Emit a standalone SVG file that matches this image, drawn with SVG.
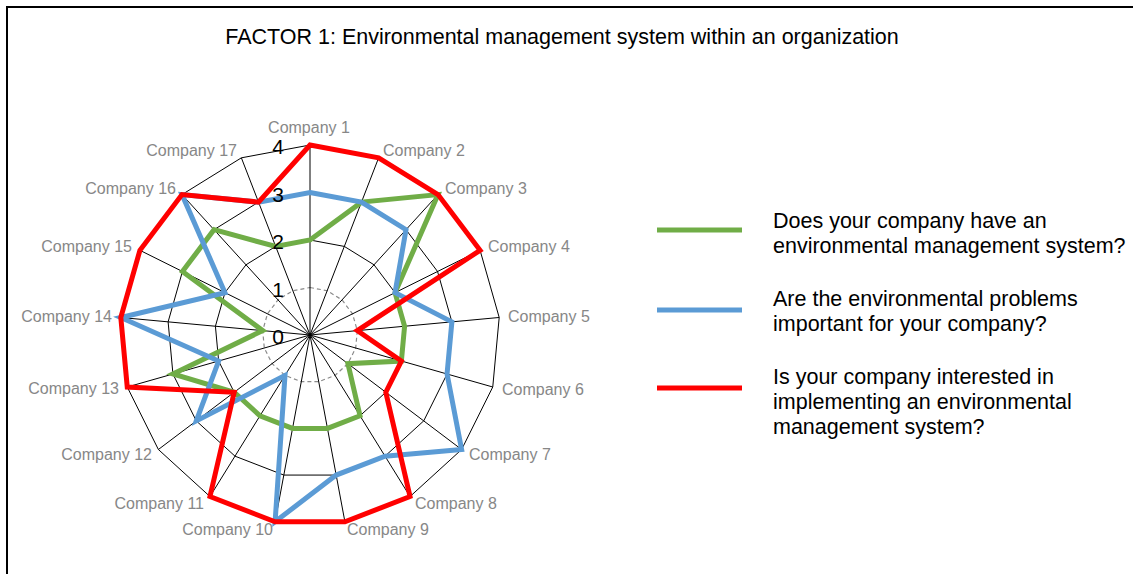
<svg xmlns="http://www.w3.org/2000/svg" width="1133" height="574" viewBox="0 0 1133 574">
<style>
  text { font-family: "Liberation Sans", Arial, sans-serif; }
  .title { font-size: 21.5px; fill: #000; }
  .cat { font-size: 16px; fill: #878787; }
  .val { font-size: 21px; fill: #000; text-anchor: middle; }
  .leg { font-size: 21.5px; fill: #000; }
  .grid { fill: none; stroke: #000; stroke-width: 1; }
  .grid1 { fill: none; stroke: #8a8a8a; stroke-width: 1.2; stroke-dasharray: 4 3; }
  .spoke { stroke: #000; stroke-width: 1; }
  .series { fill: none; stroke-width: 5; stroke-linejoin: miter; }
  .g { stroke: #70AD47; }
  .b { stroke: #5B9BD5; }
  .r { stroke: #FF0000; }
</style>
<rect x="0" y="0" width="1133" height="574" fill="#fff"/>
<rect id="frame" x="7" y="7" width="1140" height="600" fill="none" stroke="#000" stroke-width="2"/>
<text id="title" class="title" x="562" y="44" text-anchor="middle">FACTOR 1: Environmental management system within an organization</text>

<g id="grid">
  <polygon class="grid1" points="310,287.5 327.16,290.71 342,299.9 352.52,313.83 357.3,330.62 355.69,348 347.91,363.63 335.01,375.39 318.73,381.69 301.27,381.69 285,375.39 272.09,363.63 264.31,348 262.7,330.62 267.48,313.83 278,299.9 292.84,290.71"/>
  <polygon class="grid" points="310,240 344.32,246.42 374,264.79 395.04,292.66 404.59,326.23 401.37,361 385.81,392.25 360.01,415.77 327.46,428.38 292.54,428.38 259.99,415.77 234.19,392.25 218.63,361 215.41,326.23 224.96,292.66 246,264.79 275.68,246.42"/>
  <polygon class="grid" points="310,192.5 361.48,202.12 406,229.69 437.56,271.48 451.89,321.85 447.06,374 423.72,420.88 385.02,456.16 336.18,475.07 283.82,475.07 234.99,456.16 196.28,420.88 172.94,374 168.11,321.85 182.44,271.48 214,229.69 258.52,202.12"/>
  <polygon class="grid" points="310,145 378.64,157.83 438,194.59 480.08,250.31 499.19,317.47 492.75,387 461.62,449.5 410.02,496.54 344.91,521.76 275.09,521.76 209.98,496.54 158.38,449.5 127.25,387 120.81,317.47 139.92,250.31 182,194.59 241.36,157.83"/>
  <g class="spoke">
    <line x1="310" y1="335" x2="310" y2="145"/>
    <line x1="310" y1="335" x2="378.64" y2="157.83"/>
    <line x1="310" y1="335" x2="438" y2="194.59"/>
    <line x1="310" y1="335" x2="480.08" y2="250.31"/>
    <line x1="310" y1="335" x2="499.19" y2="317.47"/>
    <line x1="310" y1="335" x2="492.75" y2="387"/>
    <line x1="310" y1="335" x2="461.62" y2="449.5"/>
    <line x1="310" y1="335" x2="410.02" y2="496.54"/>
    <line x1="310" y1="335" x2="344.91" y2="521.76"/>
    <line x1="310" y1="335" x2="275.09" y2="521.76"/>
    <line x1="310" y1="335" x2="209.98" y2="496.54"/>
    <line x1="310" y1="335" x2="158.38" y2="449.5"/>
    <line x1="310" y1="335" x2="127.25" y2="387"/>
    <line x1="310" y1="335" x2="120.81" y2="317.47"/>
    <line x1="310" y1="335" x2="139.92" y2="250.31"/>
    <line x1="310" y1="335" x2="182" y2="194.59"/>
    <line x1="310" y1="335" x2="241.36" y2="157.83"/>
  </g>
</g>

<g id="series-lines">
  <polygon id="series-have-ems" class="series g" points="310,240 361.48,202.12 438,194.59 395.04,292.66 404.59,326.23 401.37,361 347.91,363.63 360.01,415.77 327.46,428.38 292.54,428.38 259.99,415.77 234.19,392.25 172.94,374 262.7,330.62 182.44,271.48 214,229.69 275.68,246.42"/>
  <polygon id="series-problems-important" class="series b" points="310,192.5 361.48,202.12 406,229.69 395.04,292.66 451.89,321.85 447.06,374 461.62,449.5 385.02,456.16 336.18,475.07 275.09,521.76 285,375.39 196.28,420.88 218.63,361 120.81,317.47 224.96,292.66 182,194.59 258.52,202.12"/>
  <polygon id="series-interested" class="series r" points="310,145 378.64,157.83 438,194.59 480.08,250.31 357.3,330.62 401.37,361 385.81,392.25 410.02,496.54 344.91,521.76 275.09,521.76 209.98,496.54 234.19,392.25 127.25,387 120.81,317.47 139.92,250.31 182,194.59 258.52,202.12"/>
</g>

<g id="axis-values">
  <text class="val" x="278" y="344">0</text>
  <text class="val" x="278" y="296.5">1</text>
  <text class="val" x="278" y="249">2</text>
  <text class="val" x="278" y="201.5">3</text>
  <text class="val" x="278" y="154">4</text>
</g>

<g id="category-labels">
  <text id="c1" class="cat" x="309" y="133" text-anchor="middle">Company 1</text>
  <text id="c2" class="cat" x="383" y="156">Company 2</text>
  <text id="c3" class="cat" x="445" y="193.5">Company 3</text>
  <text id="c4" class="cat" x="488" y="252">Company 4</text>
  <text id="c5" class="cat" x="508" y="322">Company 5</text>
  <text id="c6" class="cat" x="502" y="395">Company 6</text>
  <text id="c7" class="cat" x="469" y="459.5">Company 7</text>
  <text id="c8" class="cat" x="415" y="508.5">Company 8</text>
  <text id="c9" class="cat" x="347" y="535">Company 9</text>
  <text id="c10" class="cat" x="273" y="535" text-anchor="end">Company 10</text>
  <text id="c11" class="cat" x="204" y="508.5" text-anchor="end">Company 11</text>
  <text id="c12" class="cat" x="152" y="459.5" text-anchor="end">Company 12</text>
  <text id="c13" class="cat" x="119" y="393.5" text-anchor="end">Company 13</text>
  <text id="c14" class="cat" x="112" y="322" text-anchor="end">Company 14</text>
  <text id="c15" class="cat" x="132" y="252" text-anchor="end">Company 15</text>
  <text id="c16" class="cat" x="176" y="194" text-anchor="end">Company 16</text>
  <text id="c17" class="cat" x="237" y="156" text-anchor="end">Company 17</text>
</g>

<g id="legend">
  <g id="legend-1">
    <line x1="657" y1="230" x2="742" y2="230" class="series g"/>
    <text class="leg" x="773" y="228">Does your company have an</text>
    <text class="leg" x="773" y="253">environmental management system?</text>
  </g>
  <g id="legend-2">
    <line x1="657" y1="310" x2="742" y2="310" class="series b"/>
    <text class="leg" x="773" y="306">Are the environmental problems</text>
    <text class="leg" x="773" y="331">important for your company?</text>
  </g>
  <g id="legend-3">
    <line x1="657" y1="388" x2="742" y2="388" class="series r"/>
    <text class="leg" x="773" y="384">Is your company interested in</text>
    <text class="leg" x="773" y="409">implementing an environmental</text>
    <text class="leg" x="773" y="434">management system?</text>
  </g>
</g>
</svg>
